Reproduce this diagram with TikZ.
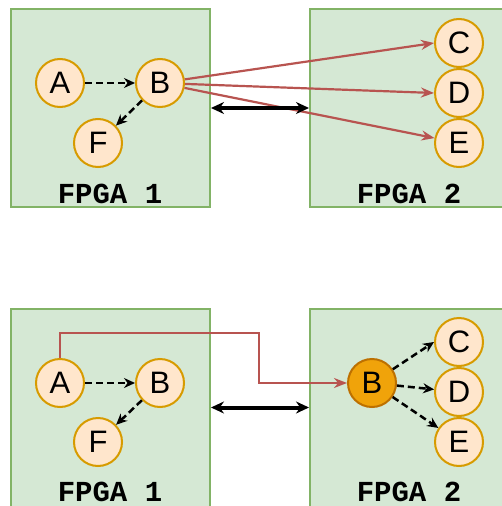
\documentclass[tikz,border=0pt]{standalone}
\usepackage{fontspec}
\setmainfont{Liberation Sans}
\newfontfamily\chipfont{Liberation Mono}
\usetikzlibrary{arrows.meta,calc}
\definecolor{fpgafill}{HTML}{D5E8D4}
\definecolor{fpgaline}{HTML}{82B366}
\definecolor{vxfill}{HTML}{FFE6CC}
\definecolor{vxline}{HTML}{D79B00}
\definecolor{hotfill}{HTML}{F0A30A}
\definecolor{hotline}{HTML}{BD7000}
\definecolor{routeline}{HTML}{B85450}
\tikzset{
  fpga/.style={draw=fpgaline, fill=fpgafill, line width=2pt, minimum width=199pt, minimum height=198pt, inner sep=0pt},
  vertex/.style={circle, draw=vxline, fill=vxfill, line width=2pt, minimum size=48pt, inner sep=0pt, font=\fontsize{31}{31}\selectfont},
  hot/.style={vertex, draw=hotline, fill=hotfill},
  chip/.style={inner sep=1pt, font=\chipfont\bfseries\fontsize{29}{29}\selectfont},
  dep/.style={-{Stealth[length=11pt,width=10pt]}, dash pattern=on 7pt off 4pt, line width=2.5pt},
  route/.style={-{Stealth[length=13pt,width=10pt]}, draw=routeline, line width=2.2pt},
  link/.style={{Stealth[length=13pt,width=12pt]}-{Stealth[length=13pt,width=12pt]}, line width=4pt}
}

\begin{document}
\begin{tikzpicture}[x=1pt, y=-1pt]
  \useasboundingbox (0,0) rectangle (502,506);
  \clip (0,0) rectangle (502,506);

  % top: partition before
  \node[fpga] (L1) at (110.5,108) {};
  \node[fpga] (R1) at (409.5,108) {};
  \node[chip] (L1name) at (110,194) {FPGA 1};
  \node[chip] (R1name) at (409,194) {FPGA 2};
  \node[vertex] (A1) at (60,83) {A};
  \node[vertex] (B1) at (160,83) {B};
  \node[vertex] (F1) at (98,143) {F};
  \node[vertex] (C1) at (459,43) {C};
  \node[vertex] (D1) at (459,93) {D};
  \node[vertex] (E1) at (459,143) {E};
  \draw[dep] (A1) -- (B1);
  \draw[dep] (B1) -- (F1);
  \draw[route] (B1) -- (C1.west);
  \draw[route] (B1) -- (D1.west);
  \draw[route] (B1) -- (E1);
  \draw[link] (L1.east) -- (R1.west);

  % bottom: partition after
  \node[fpga] (L2) at (110.5,407.5) {};
  \node[fpga] (R2) at (409.5,407.5) {};
  \node[chip] (L2name) at (110,492) {FPGA 1};
  \node[chip] (R2name) at (409,492) {FPGA 2};
  \node[vertex] (A2) at (60,383) {A};
  \node[vertex] (B2) at (160,383) {B};
  \node[vertex] (F2) at (98,442) {F};
  \node[hot] (B3) at (372,383) {B};
  \node[vertex] (C2) at (459,342) {C};
  \node[vertex] (D2) at (459,392) {D};
  \node[vertex] (E2) at (459,442) {E};
  \draw[dep] (A2) -- (B2);
  \draw[dep] (B2) -- (F2);
  \coordinate (turn) at (259,333);
  \draw[route] (A2.north) |- (turn) |- (B3.west);
  \draw[dep] (B3) -- (C2.west);
  \draw[dep] (B3) -- (D2);
  \draw[dep] (B3) -- (E2);
  \draw[link] (L2.east) -- (R2.west);
\end{tikzpicture}
\end{document}
